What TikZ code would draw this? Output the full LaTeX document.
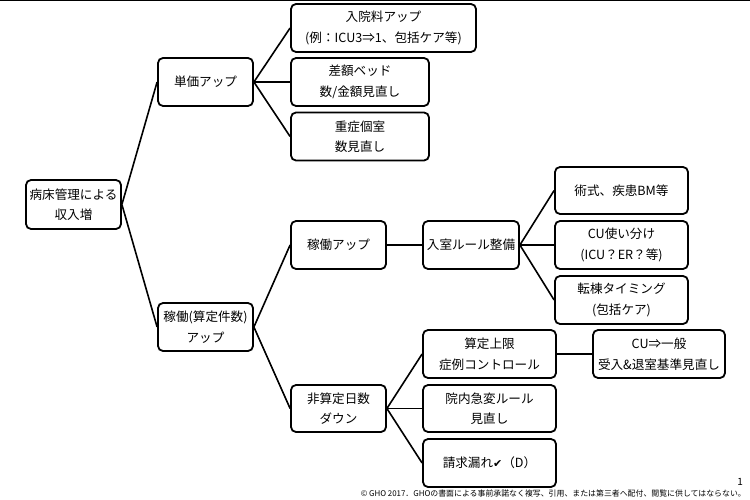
\documentclass[tikz,border=0pt]{standalone}
\usepackage{fontspec}
\setmainfont{Noto Sans CJK JP}
\newfontfamily\symfont{DejaVu Sans}
\begin{document}
\begin{tikzpicture}[x=1pt,y=-1pt,
  box/.style={draw=black, line width=1.8pt, rounded corners=5pt, align=center,
    inner sep=0pt, font=\fontsize{12.6}{20.5}\selectfont, fill=white},
  link/.style={draw=black, line width=1.6pt}]
\useasboundingbox (0,0) rectangle (750,500);
\fill[white] (0,0) rectangle (750,500);
\draw[line width=2pt] (0,0.5) -- (750,0.5);
% nodes
\node[box, minimum width=95pt, minimum height=49pt] (root) at (73.5,204.5) {病床管理による\\収入増};
\node[box, minimum width=95pt, minimum height=48pt] (tanka) at (205.5,82) {単価アップ};
\node[box, minimum width=95pt, minimum height=48pt] (kado) at (205.5,327) {稼働(算定件数)\\アップ};
\node[box, minimum width=185pt, minimum height=48pt] (nyuin) at (383.5,28) {入院料アップ\\(例：ICU3⇒1、包括ケア等)};
\node[box, minimum width=138pt, minimum height=48pt] (sagaku) at (360,82) {差額ベッド\\数/金額見直し};
\node[box, minimum width=138pt, minimum height=48pt] (jusho) at (360,136.5) {重症個室\\数見直し};
\node[box, minimum width=95pt, minimum height=48pt] (kadoup) at (338.5,245) {稼働アップ};
\node[box, minimum width=96pt, minimum height=48pt] (nyushitsu) at (471,245) {入室ルール整備};
\node[box, minimum width=133pt, minimum height=47pt] (jutsu) at (621.5,190.5) {術式、疾患BM等};
\node[box, minimum width=133pt, minimum height=48pt] (cu) at (621.5,245) {CU使い分け\\(ICU？ER？等)};
\node[box, minimum width=133pt, minimum height=48pt] (tento) at (621.5,300) {転棟タイミング\\(包括ケア)};
\node[box, minimum width=133pt, minimum height=48pt] (santei) at (489.5,354) {算定上限\\症例コントロール};
\node[box, minimum width=132pt, minimum height=48pt] (cuippan) at (659,354) {CU⇒一般\\受入\&退室基準見直し};
\node[box, minimum width=95pt, minimum height=47pt] (hisantei) at (338.5,408.5) {非算定日数\\ダウン};
\node[box, minimum width=133pt, minimum height=47pt] (innai) at (489.5,408.5) {院内急変ルール\\見直し};
\node[box, minimum width=133pt, minimum height=48pt] (seikyu) at (489.5,463) {請求漏れ{\symfont\fontsize{11}{12}\selectfont ✔}（D）};
% connectors
\draw[link] (root.east) -- (tanka.west);
\draw[link] (root.east) -- (kado.west);
\draw[link] (tanka.east) -- (nyuin.west);
\draw[link] (tanka.east) -- (sagaku.west);
\draw[link] (tanka.east) -- (jusho.west);
\draw[link] (kado.east) -- (kadoup.west);
\draw[link] (kado.east) -- (hisantei.west);
\draw[link] (kadoup.east) -- (nyushitsu.west);
\draw[link] (nyushitsu.east) -- (jutsu.west);
\draw[link] (nyushitsu.east) -- (cu.west);
\draw[link] (nyushitsu.east) -- (tento.west);
\draw[link] (hisantei.east) -- (santei.west);
\draw[link] (hisantei.east) -- (innai.west);
\draw[link] (hisantei.east) -- (seikyu.west);
\draw[link] (santei.east) -- (cuippan.west);
% footer
\node[anchor=east, inner sep=0pt, font=\fontsize{10}{12}\selectfont] (pg) at (743,482) {1};
\node[anchor=east, inner sep=0pt, font=\fontsize{7.9}{9}\selectfont] (copy) at (746,493.5) {© GHO 2017．GHOの書面による事前承諾なく複写、引用、または第三者へ配付、閲覧に供してはならない。};
\end{tikzpicture}
\end{document}
